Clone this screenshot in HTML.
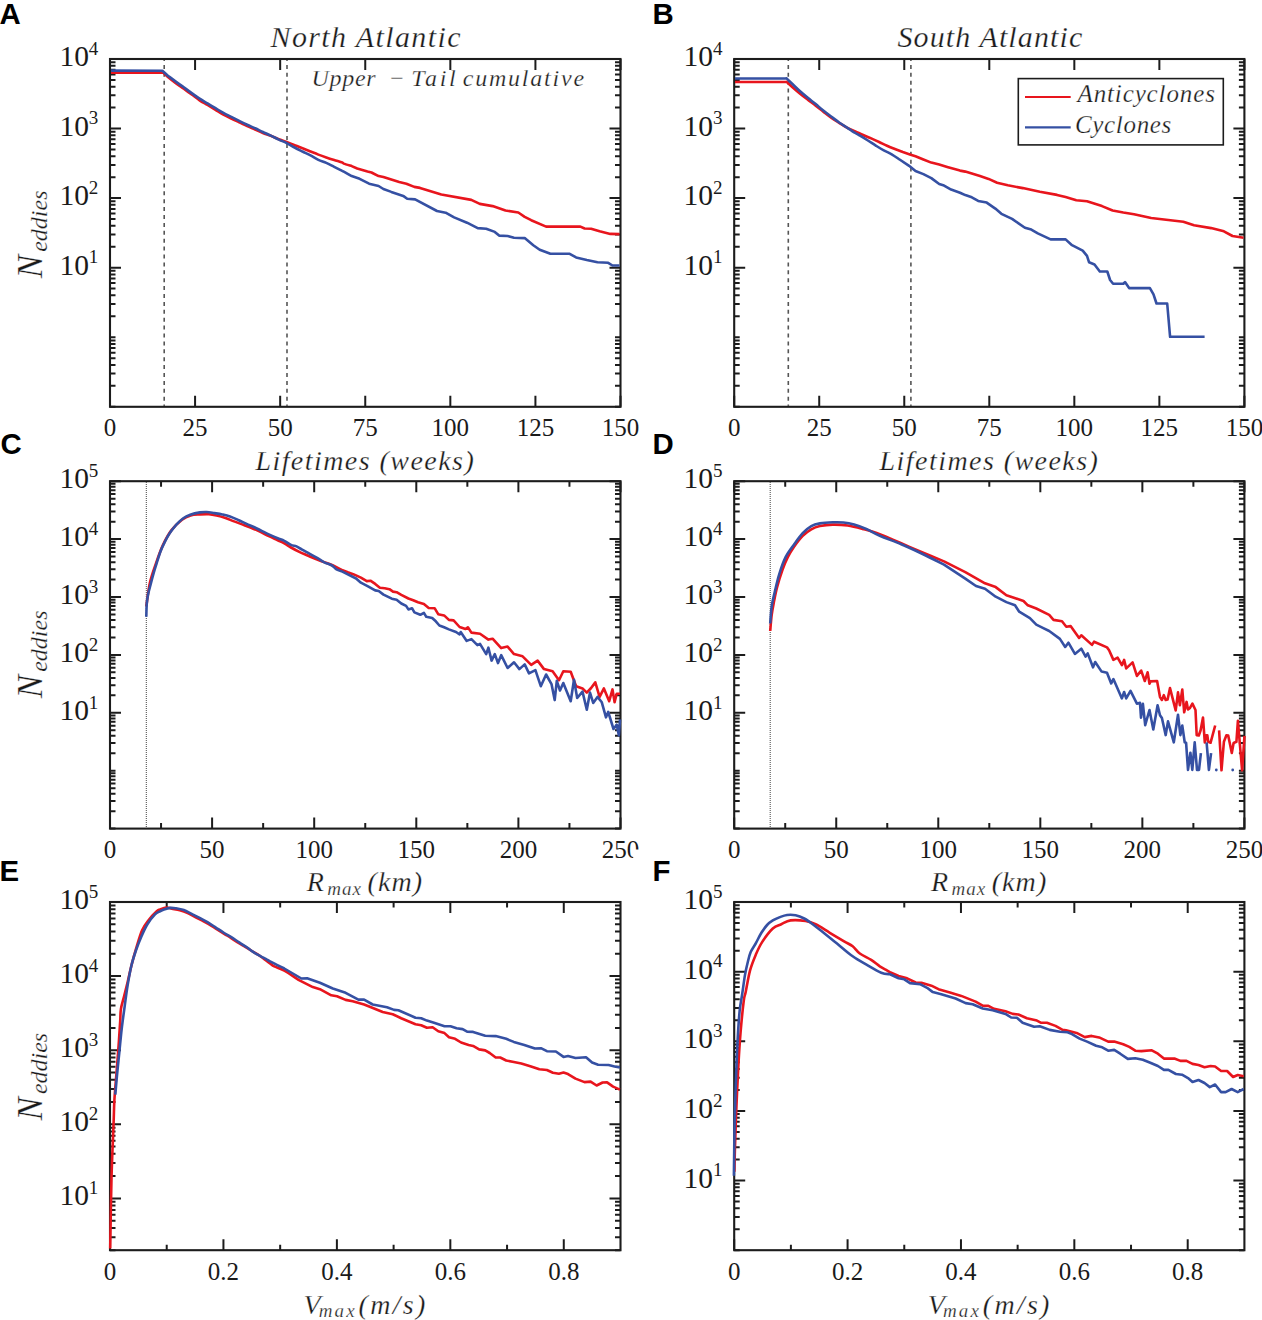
<!DOCTYPE html>
<html><head><meta charset="utf-8"><title>Eddy statistics</title><style>
html,body{margin:0;padding:0;background:#fff;}
svg{display:block;}
text{font-family:"Liberation Serif",serif;fill:#1a1a1a;}
.ti,.ut,.xl,.yl,.lg{stroke:#fff;stroke-width:0.25px;}
.yt{font-size:29.5px;}
.ys{font-size:19px;}
.xt{font-size:25px;}
.ti{font-size:30px;font-style:italic;}
.ut{font-size:24px;font-style:italic;}
.xl{font-size:28px;font-style:italic;}
.sub{font-size:19px;}
.yl{font-size:35px;font-style:italic;}
.ysub{font-size:24px;}
.lg{font-size:25px;font-style:italic;}
.pn{font-family:"Liberation Sans",sans-serif;font-weight:bold;font-size:29.4px;fill:#000;stroke:none;}
</style></head>
<body><svg width="1262" height="1320" viewBox="0 0 1262 1320">
<rect width="1262" height="1320" fill="#fff"/>
<rect x="110.0" y="59.0" width="510.50" height="347.80" fill="none" stroke="#1c1c1c" stroke-width="2.1"/>
<path d="M110.00 406.80h5.5M620.50 406.80h-5.5M110.00 385.86h5.5M620.50 385.86h-5.5M110.00 373.61h5.5M620.50 373.61h-5.5M110.00 364.92h5.5M620.50 364.92h-5.5M110.00 358.18h5.5M620.50 358.18h-5.5M110.00 352.67h5.5M620.50 352.67h-5.5M110.00 348.01h5.5M620.50 348.01h-5.5M110.00 343.98h5.5M620.50 343.98h-5.5M110.00 340.42h5.5M620.50 340.42h-5.5M110.00 337.24h5.5M620.50 337.24h-5.5M110.00 316.30h5.5M620.50 316.30h-5.5M110.00 304.05h5.5M620.50 304.05h-5.5M110.00 295.36h5.5M620.50 295.36h-5.5M110.00 288.62h5.5M620.50 288.62h-5.5M110.00 283.11h5.5M620.50 283.11h-5.5M110.00 278.45h5.5M620.50 278.45h-5.5M110.00 274.42h5.5M620.50 274.42h-5.5M110.00 270.86h5.5M620.50 270.86h-5.5M110.00 267.68h11M620.50 267.68h-11M110.00 246.74h5.5M620.50 246.74h-5.5M110.00 234.49h5.5M620.50 234.49h-5.5M110.00 225.80h5.5M620.50 225.80h-5.5M110.00 219.06h5.5M620.50 219.06h-5.5M110.00 213.55h5.5M620.50 213.55h-5.5M110.00 208.89h5.5M620.50 208.89h-5.5M110.00 204.86h5.5M620.50 204.86h-5.5M110.00 201.30h5.5M620.50 201.30h-5.5M110.00 198.12h11M620.50 198.12h-11M110.00 177.18h5.5M620.50 177.18h-5.5M110.00 164.93h5.5M620.50 164.93h-5.5M110.00 156.24h5.5M620.50 156.24h-5.5M110.00 149.50h5.5M620.50 149.50h-5.5M110.00 143.99h5.5M620.50 143.99h-5.5M110.00 139.33h5.5M620.50 139.33h-5.5M110.00 135.30h5.5M620.50 135.30h-5.5M110.00 131.74h5.5M620.50 131.74h-5.5M110.00 128.56h11M620.50 128.56h-11M110.00 107.62h5.5M620.50 107.62h-5.5M110.00 95.37h5.5M620.50 95.37h-5.5M110.00 86.68h5.5M620.50 86.68h-5.5M110.00 79.94h5.5M620.50 79.94h-5.5M110.00 74.43h5.5M620.50 74.43h-5.5M110.00 69.77h5.5M620.50 69.77h-5.5M110.00 65.74h5.5M620.50 65.74h-5.5M110.00 62.18h5.5M620.50 62.18h-5.5M110.00 59.00h11M620.50 59.00h-11M110.00 406.80v-11M110.00 59.00v11M195.08 406.80v-11M195.08 59.00v11M280.17 406.80v-11M280.17 59.00v11M365.25 406.80v-11M365.25 59.00v11M450.33 406.80v-11M450.33 59.00v11M535.42 406.80v-11M535.42 59.00v11M620.50 406.80v-11M620.50 59.00v11" stroke="#1c1c1c" stroke-width="2" fill="none"/>
<text class="yt" x="59.40" y="274.68">10</text>
<text class="ys" x="88.70" y="263.48">1</text>
<text class="yt" x="59.40" y="205.12">10</text>
<text class="ys" x="88.70" y="193.92">2</text>
<text class="yt" x="59.40" y="135.56">10</text>
<text class="ys" x="88.70" y="124.36">3</text>
<text class="yt" x="59.40" y="66.00">10</text>
<text class="ys" x="88.70" y="54.80">4</text>
<text class="xt" x="110.00" y="436.40" text-anchor="middle">0</text>
<text class="xt" x="195.08" y="436.40" text-anchor="middle">25</text>
<text class="xt" x="280.17" y="436.40" text-anchor="middle">50</text>
<text class="xt" x="365.25" y="436.40" text-anchor="middle">75</text>
<text class="xt" x="450.33" y="436.40" text-anchor="middle">100</text>
<text class="xt" x="535.42" y="436.40" text-anchor="middle">125</text>
<text class="xt" x="620.50" y="436.40" text-anchor="middle">150</text>
<rect x="110.0" y="481.2" width="510.50" height="347.40" fill="none" stroke="#1c1c1c" stroke-width="2.1"/>
<path d="M110.00 828.60h5.5M620.50 828.60h-5.5M110.00 811.17h5.5M620.50 811.17h-5.5M110.00 800.97h5.5M620.50 800.97h-5.5M110.00 793.74h5.5M620.50 793.74h-5.5M110.00 788.13h5.5M620.50 788.13h-5.5M110.00 783.55h5.5M620.50 783.55h-5.5M110.00 779.67h5.5M620.50 779.67h-5.5M110.00 776.31h5.5M620.50 776.31h-5.5M110.00 773.35h5.5M620.50 773.35h-5.5M110.00 770.70h5.5M620.50 770.70h-5.5M110.00 753.27h5.5M620.50 753.27h-5.5M110.00 743.07h5.5M620.50 743.07h-5.5M110.00 735.84h5.5M620.50 735.84h-5.5M110.00 730.23h5.5M620.50 730.23h-5.5M110.00 725.65h5.5M620.50 725.65h-5.5M110.00 721.77h5.5M620.50 721.77h-5.5M110.00 718.41h5.5M620.50 718.41h-5.5M110.00 715.45h5.5M620.50 715.45h-5.5M110.00 712.80h11M620.50 712.80h-11M110.00 695.37h5.5M620.50 695.37h-5.5M110.00 685.17h5.5M620.50 685.17h-5.5M110.00 677.94h5.5M620.50 677.94h-5.5M110.00 672.33h5.5M620.50 672.33h-5.5M110.00 667.75h5.5M620.50 667.75h-5.5M110.00 663.87h5.5M620.50 663.87h-5.5M110.00 660.51h5.5M620.50 660.51h-5.5M110.00 657.55h5.5M620.50 657.55h-5.5M110.00 654.90h11M620.50 654.90h-11M110.00 637.47h5.5M620.50 637.47h-5.5M110.00 627.27h5.5M620.50 627.27h-5.5M110.00 620.04h5.5M620.50 620.04h-5.5M110.00 614.43h5.5M620.50 614.43h-5.5M110.00 609.85h5.5M620.50 609.85h-5.5M110.00 605.97h5.5M620.50 605.97h-5.5M110.00 602.61h5.5M620.50 602.61h-5.5M110.00 599.65h5.5M620.50 599.65h-5.5M110.00 597.00h11M620.50 597.00h-11M110.00 579.57h5.5M620.50 579.57h-5.5M110.00 569.37h5.5M620.50 569.37h-5.5M110.00 562.14h5.5M620.50 562.14h-5.5M110.00 556.53h5.5M620.50 556.53h-5.5M110.00 551.95h5.5M620.50 551.95h-5.5M110.00 548.07h5.5M620.50 548.07h-5.5M110.00 544.71h5.5M620.50 544.71h-5.5M110.00 541.75h5.5M620.50 541.75h-5.5M110.00 539.10h11M620.50 539.10h-11M110.00 521.67h5.5M620.50 521.67h-5.5M110.00 511.47h5.5M620.50 511.47h-5.5M110.00 504.24h5.5M620.50 504.24h-5.5M110.00 498.63h5.5M620.50 498.63h-5.5M110.00 494.05h5.5M620.50 494.05h-5.5M110.00 490.17h5.5M620.50 490.17h-5.5M110.00 486.81h5.5M620.50 486.81h-5.5M110.00 483.85h5.5M620.50 483.85h-5.5M110.00 481.20h11M620.50 481.20h-11M110.00 828.60v-11M110.00 481.20v11M212.10 828.60v-11M212.10 481.20v11M314.20 828.60v-11M314.20 481.20v11M416.30 828.60v-11M416.30 481.20v11M518.40 828.60v-11M518.40 481.20v11M620.50 828.60v-11M620.50 481.20v11M161.05 828.60v-5.5M161.05 481.20v5.5M263.15 828.60v-5.5M263.15 481.20v5.5M365.25 828.60v-5.5M365.25 481.20v5.5M467.35 828.60v-5.5M467.35 481.20v5.5M569.45 828.60v-5.5M569.45 481.20v5.5" stroke="#1c1c1c" stroke-width="2" fill="none"/>
<text class="yt" x="59.40" y="719.80">10</text>
<text class="ys" x="88.70" y="708.60">1</text>
<text class="yt" x="59.40" y="661.90">10</text>
<text class="ys" x="88.70" y="650.70">2</text>
<text class="yt" x="59.40" y="604.00">10</text>
<text class="ys" x="88.70" y="592.80">3</text>
<text class="yt" x="59.40" y="546.10">10</text>
<text class="ys" x="88.70" y="534.90">4</text>
<text class="yt" x="59.40" y="488.20">10</text>
<text class="ys" x="88.70" y="477.00">5</text>
<text class="xt" x="110.00" y="858.20" text-anchor="middle">0</text>
<text class="xt" x="212.10" y="858.20" text-anchor="middle">50</text>
<text class="xt" x="314.20" y="858.20" text-anchor="middle">100</text>
<text class="xt" x="416.30" y="858.20" text-anchor="middle">150</text>
<text class="xt" x="518.40" y="858.20" text-anchor="middle">200</text>
<text class="xt" x="620.50" y="858.20" text-anchor="middle">250</text>
<rect x="110.0" y="902.0" width="510.50" height="348.20" fill="none" stroke="#1c1c1c" stroke-width="2.1"/>
<path d="M110.00 1250.20h5.5M620.50 1250.20h-5.5M110.00 1237.15h5.5M620.50 1237.15h-5.5M110.00 1227.89h5.5M620.50 1227.89h-5.5M110.00 1220.71h5.5M620.50 1220.71h-5.5M110.00 1214.84h5.5M620.50 1214.84h-5.5M110.00 1209.88h5.5M620.50 1209.88h-5.5M110.00 1205.59h5.5M620.50 1205.59h-5.5M110.00 1201.80h5.5M620.50 1201.80h-5.5M110.00 1198.41h11M620.50 1198.41h-11M110.00 1176.10h5.5M620.50 1176.10h-5.5M110.00 1163.05h5.5M620.50 1163.05h-5.5M110.00 1153.79h5.5M620.50 1153.79h-5.5M110.00 1146.61h5.5M620.50 1146.61h-5.5M110.00 1140.74h5.5M620.50 1140.74h-5.5M110.00 1135.78h5.5M620.50 1135.78h-5.5M110.00 1131.49h5.5M620.50 1131.49h-5.5M110.00 1127.69h5.5M620.50 1127.69h-5.5M110.00 1124.30h11M620.50 1124.30h-11M110.00 1102.00h5.5M620.50 1102.00h-5.5M110.00 1088.95h5.5M620.50 1088.95h-5.5M110.00 1079.69h5.5M620.50 1079.69h-5.5M110.00 1072.51h5.5M620.50 1072.51h-5.5M110.00 1066.64h5.5M620.50 1066.64h-5.5M110.00 1061.68h5.5M620.50 1061.68h-5.5M110.00 1057.38h5.5M620.50 1057.38h-5.5M110.00 1053.59h5.5M620.50 1053.59h-5.5M110.00 1050.20h11M620.50 1050.20h-11M110.00 1027.90h5.5M620.50 1027.90h-5.5M110.00 1014.85h5.5M620.50 1014.85h-5.5M110.00 1005.59h5.5M620.50 1005.59h-5.5M110.00 998.41h5.5M620.50 998.41h-5.5M110.00 992.54h5.5M620.50 992.54h-5.5M110.00 987.58h5.5M620.50 987.58h-5.5M110.00 983.28h5.5M620.50 983.28h-5.5M110.00 979.49h5.5M620.50 979.49h-5.5M110.00 976.10h11M620.50 976.10h-11M110.00 953.79h5.5M620.50 953.79h-5.5M110.00 940.75h5.5M620.50 940.75h-5.5M110.00 931.49h5.5M620.50 931.49h-5.5M110.00 924.31h5.5M620.50 924.31h-5.5M110.00 918.44h5.5M620.50 918.44h-5.5M110.00 913.48h5.5M620.50 913.48h-5.5M110.00 909.18h5.5M620.50 909.18h-5.5M110.00 905.39h5.5M620.50 905.39h-5.5M110.00 902.00h11M620.50 902.00h-11M110.00 1250.20v-11M110.00 902.00v11M223.44 1250.20v-11M223.44 902.00v11M336.89 1250.20v-11M336.89 902.00v11M450.33 1250.20v-11M450.33 902.00v11M563.78 1250.20v-11M563.78 902.00v11M166.72 1250.20v-5.5M166.72 902.00v5.5M280.17 1250.20v-5.5M280.17 902.00v5.5M393.61 1250.20v-5.5M393.61 902.00v5.5M507.06 1250.20v-5.5M507.06 902.00v5.5" stroke="#1c1c1c" stroke-width="2" fill="none"/>
<text class="yt" x="59.40" y="1205.41">10</text>
<text class="ys" x="88.70" y="1194.21">1</text>
<text class="yt" x="59.40" y="1131.30">10</text>
<text class="ys" x="88.70" y="1120.10">2</text>
<text class="yt" x="59.40" y="1057.20">10</text>
<text class="ys" x="88.70" y="1046.00">3</text>
<text class="yt" x="59.40" y="983.10">10</text>
<text class="ys" x="88.70" y="971.90">4</text>
<text class="yt" x="59.40" y="909.00">10</text>
<text class="ys" x="88.70" y="897.80">5</text>
<text class="xt" x="110.00" y="1279.80" text-anchor="middle">0</text>
<text class="xt" x="223.44" y="1279.80" text-anchor="middle">0.2</text>
<text class="xt" x="336.89" y="1279.80" text-anchor="middle">0.4</text>
<text class="xt" x="450.33" y="1279.80" text-anchor="middle">0.6</text>
<text class="xt" x="563.78" y="1279.80" text-anchor="middle">0.8</text>
<rect x="734.2" y="59.0" width="510.20" height="347.80" fill="none" stroke="#1c1c1c" stroke-width="2.1"/>
<path d="M734.20 406.80h5.5M1244.40 406.80h-5.5M734.20 385.86h5.5M1244.40 385.86h-5.5M734.20 373.61h5.5M1244.40 373.61h-5.5M734.20 364.92h5.5M1244.40 364.92h-5.5M734.20 358.18h5.5M1244.40 358.18h-5.5M734.20 352.67h5.5M1244.40 352.67h-5.5M734.20 348.01h5.5M1244.40 348.01h-5.5M734.20 343.98h5.5M1244.40 343.98h-5.5M734.20 340.42h5.5M1244.40 340.42h-5.5M734.20 337.24h5.5M1244.40 337.24h-5.5M734.20 316.30h5.5M1244.40 316.30h-5.5M734.20 304.05h5.5M1244.40 304.05h-5.5M734.20 295.36h5.5M1244.40 295.36h-5.5M734.20 288.62h5.5M1244.40 288.62h-5.5M734.20 283.11h5.5M1244.40 283.11h-5.5M734.20 278.45h5.5M1244.40 278.45h-5.5M734.20 274.42h5.5M1244.40 274.42h-5.5M734.20 270.86h5.5M1244.40 270.86h-5.5M734.20 267.68h11M1244.40 267.68h-11M734.20 246.74h5.5M1244.40 246.74h-5.5M734.20 234.49h5.5M1244.40 234.49h-5.5M734.20 225.80h5.5M1244.40 225.80h-5.5M734.20 219.06h5.5M1244.40 219.06h-5.5M734.20 213.55h5.5M1244.40 213.55h-5.5M734.20 208.89h5.5M1244.40 208.89h-5.5M734.20 204.86h5.5M1244.40 204.86h-5.5M734.20 201.30h5.5M1244.40 201.30h-5.5M734.20 198.12h11M1244.40 198.12h-11M734.20 177.18h5.5M1244.40 177.18h-5.5M734.20 164.93h5.5M1244.40 164.93h-5.5M734.20 156.24h5.5M1244.40 156.24h-5.5M734.20 149.50h5.5M1244.40 149.50h-5.5M734.20 143.99h5.5M1244.40 143.99h-5.5M734.20 139.33h5.5M1244.40 139.33h-5.5M734.20 135.30h5.5M1244.40 135.30h-5.5M734.20 131.74h5.5M1244.40 131.74h-5.5M734.20 128.56h11M1244.40 128.56h-11M734.20 107.62h5.5M1244.40 107.62h-5.5M734.20 95.37h5.5M1244.40 95.37h-5.5M734.20 86.68h5.5M1244.40 86.68h-5.5M734.20 79.94h5.5M1244.40 79.94h-5.5M734.20 74.43h5.5M1244.40 74.43h-5.5M734.20 69.77h5.5M1244.40 69.77h-5.5M734.20 65.74h5.5M1244.40 65.74h-5.5M734.20 62.18h5.5M1244.40 62.18h-5.5M734.20 59.00h11M1244.40 59.00h-11M734.20 406.80v-11M734.20 59.00v11M819.23 406.80v-11M819.23 59.00v11M904.27 406.80v-11M904.27 59.00v11M989.30 406.80v-11M989.30 59.00v11M1074.33 406.80v-11M1074.33 59.00v11M1159.37 406.80v-11M1159.37 59.00v11M1244.40 406.80v-11M1244.40 59.00v11" stroke="#1c1c1c" stroke-width="2" fill="none"/>
<text class="yt" x="683.60" y="274.68">10</text>
<text class="ys" x="712.90" y="263.48">1</text>
<text class="yt" x="683.60" y="205.12">10</text>
<text class="ys" x="712.90" y="193.92">2</text>
<text class="yt" x="683.60" y="135.56">10</text>
<text class="ys" x="712.90" y="124.36">3</text>
<text class="yt" x="683.60" y="66.00">10</text>
<text class="ys" x="712.90" y="54.80">4</text>
<text class="xt" x="734.20" y="436.40" text-anchor="middle">0</text>
<text class="xt" x="819.23" y="436.40" text-anchor="middle">25</text>
<text class="xt" x="904.27" y="436.40" text-anchor="middle">50</text>
<text class="xt" x="989.30" y="436.40" text-anchor="middle">75</text>
<text class="xt" x="1074.33" y="436.40" text-anchor="middle">100</text>
<text class="xt" x="1159.37" y="436.40" text-anchor="middle">125</text>
<text class="xt" x="1244.40" y="436.40" text-anchor="middle">150</text>
<rect x="734.2" y="481.2" width="510.20" height="347.40" fill="none" stroke="#1c1c1c" stroke-width="2.1"/>
<path d="M734.20 828.60h5.5M1244.40 828.60h-5.5M734.20 811.17h5.5M1244.40 811.17h-5.5M734.20 800.97h5.5M1244.40 800.97h-5.5M734.20 793.74h5.5M1244.40 793.74h-5.5M734.20 788.13h5.5M1244.40 788.13h-5.5M734.20 783.55h5.5M1244.40 783.55h-5.5M734.20 779.67h5.5M1244.40 779.67h-5.5M734.20 776.31h5.5M1244.40 776.31h-5.5M734.20 773.35h5.5M1244.40 773.35h-5.5M734.20 770.70h5.5M1244.40 770.70h-5.5M734.20 753.27h5.5M1244.40 753.27h-5.5M734.20 743.07h5.5M1244.40 743.07h-5.5M734.20 735.84h5.5M1244.40 735.84h-5.5M734.20 730.23h5.5M1244.40 730.23h-5.5M734.20 725.65h5.5M1244.40 725.65h-5.5M734.20 721.77h5.5M1244.40 721.77h-5.5M734.20 718.41h5.5M1244.40 718.41h-5.5M734.20 715.45h5.5M1244.40 715.45h-5.5M734.20 712.80h11M1244.40 712.80h-11M734.20 695.37h5.5M1244.40 695.37h-5.5M734.20 685.17h5.5M1244.40 685.17h-5.5M734.20 677.94h5.5M1244.40 677.94h-5.5M734.20 672.33h5.5M1244.40 672.33h-5.5M734.20 667.75h5.5M1244.40 667.75h-5.5M734.20 663.87h5.5M1244.40 663.87h-5.5M734.20 660.51h5.5M1244.40 660.51h-5.5M734.20 657.55h5.5M1244.40 657.55h-5.5M734.20 654.90h11M1244.40 654.90h-11M734.20 637.47h5.5M1244.40 637.47h-5.5M734.20 627.27h5.5M1244.40 627.27h-5.5M734.20 620.04h5.5M1244.40 620.04h-5.5M734.20 614.43h5.5M1244.40 614.43h-5.5M734.20 609.85h5.5M1244.40 609.85h-5.5M734.20 605.97h5.5M1244.40 605.97h-5.5M734.20 602.61h5.5M1244.40 602.61h-5.5M734.20 599.65h5.5M1244.40 599.65h-5.5M734.20 597.00h11M1244.40 597.00h-11M734.20 579.57h5.5M1244.40 579.57h-5.5M734.20 569.37h5.5M1244.40 569.37h-5.5M734.20 562.14h5.5M1244.40 562.14h-5.5M734.20 556.53h5.5M1244.40 556.53h-5.5M734.20 551.95h5.5M1244.40 551.95h-5.5M734.20 548.07h5.5M1244.40 548.07h-5.5M734.20 544.71h5.5M1244.40 544.71h-5.5M734.20 541.75h5.5M1244.40 541.75h-5.5M734.20 539.10h11M1244.40 539.10h-11M734.20 521.67h5.5M1244.40 521.67h-5.5M734.20 511.47h5.5M1244.40 511.47h-5.5M734.20 504.24h5.5M1244.40 504.24h-5.5M734.20 498.63h5.5M1244.40 498.63h-5.5M734.20 494.05h5.5M1244.40 494.05h-5.5M734.20 490.17h5.5M1244.40 490.17h-5.5M734.20 486.81h5.5M1244.40 486.81h-5.5M734.20 483.85h5.5M1244.40 483.85h-5.5M734.20 481.20h11M1244.40 481.20h-11M734.20 828.60v-11M734.20 481.20v11M836.24 828.60v-11M836.24 481.20v11M938.28 828.60v-11M938.28 481.20v11M1040.32 828.60v-11M1040.32 481.20v11M1142.36 828.60v-11M1142.36 481.20v11M1244.40 828.60v-11M1244.40 481.20v11M785.22 828.60v-5.5M785.22 481.20v5.5M887.26 828.60v-5.5M887.26 481.20v5.5M989.30 828.60v-5.5M989.30 481.20v5.5M1091.34 828.60v-5.5M1091.34 481.20v5.5M1193.38 828.60v-5.5M1193.38 481.20v5.5" stroke="#1c1c1c" stroke-width="2" fill="none"/>
<text class="yt" x="683.60" y="719.80">10</text>
<text class="ys" x="712.90" y="708.60">1</text>
<text class="yt" x="683.60" y="661.90">10</text>
<text class="ys" x="712.90" y="650.70">2</text>
<text class="yt" x="683.60" y="604.00">10</text>
<text class="ys" x="712.90" y="592.80">3</text>
<text class="yt" x="683.60" y="546.10">10</text>
<text class="ys" x="712.90" y="534.90">4</text>
<text class="yt" x="683.60" y="488.20">10</text>
<text class="ys" x="712.90" y="477.00">5</text>
<text class="xt" x="734.20" y="858.20" text-anchor="middle">0</text>
<text class="xt" x="836.24" y="858.20" text-anchor="middle">50</text>
<text class="xt" x="938.28" y="858.20" text-anchor="middle">100</text>
<text class="xt" x="1040.32" y="858.20" text-anchor="middle">150</text>
<text class="xt" x="1142.36" y="858.20" text-anchor="middle">200</text>
<text class="xt" x="1244.40" y="858.20" text-anchor="middle">250</text>
<rect x="734.2" y="902.0" width="510.20" height="348.20" fill="none" stroke="#1c1c1c" stroke-width="2.1"/>
<path d="M734.20 1250.20h5.5M1244.40 1250.20h-5.5M734.20 1229.24h5.5M1244.40 1229.24h-5.5M734.20 1216.97h5.5M1244.40 1216.97h-5.5M734.20 1208.27h5.5M1244.40 1208.27h-5.5M734.20 1201.52h5.5M1244.40 1201.52h-5.5M734.20 1196.01h5.5M1244.40 1196.01h-5.5M734.20 1191.35h5.5M1244.40 1191.35h-5.5M734.20 1187.31h5.5M1244.40 1187.31h-5.5M734.20 1183.75h5.5M1244.40 1183.75h-5.5M734.20 1180.56h11M1244.40 1180.56h-11M734.20 1159.60h5.5M1244.40 1159.60h-5.5M734.20 1147.33h5.5M1244.40 1147.33h-5.5M734.20 1138.63h5.5M1244.40 1138.63h-5.5M734.20 1131.88h5.5M1244.40 1131.88h-5.5M734.20 1126.37h5.5M1244.40 1126.37h-5.5M734.20 1121.71h5.5M1244.40 1121.71h-5.5M734.20 1117.67h5.5M1244.40 1117.67h-5.5M734.20 1114.11h5.5M1244.40 1114.11h-5.5M734.20 1110.92h11M1244.40 1110.92h-11M734.20 1089.96h5.5M1244.40 1089.96h-5.5M734.20 1077.69h5.5M1244.40 1077.69h-5.5M734.20 1068.99h5.5M1244.40 1068.99h-5.5M734.20 1062.24h5.5M1244.40 1062.24h-5.5M734.20 1056.73h5.5M1244.40 1056.73h-5.5M734.20 1052.07h5.5M1244.40 1052.07h-5.5M734.20 1048.03h5.5M1244.40 1048.03h-5.5M734.20 1044.47h5.5M1244.40 1044.47h-5.5M734.20 1041.28h11M1244.40 1041.28h-11M734.20 1020.32h5.5M1244.40 1020.32h-5.5M734.20 1008.05h5.5M1244.40 1008.05h-5.5M734.20 999.35h5.5M1244.40 999.35h-5.5M734.20 992.60h5.5M1244.40 992.60h-5.5M734.20 987.09h5.5M1244.40 987.09h-5.5M734.20 982.43h5.5M1244.40 982.43h-5.5M734.20 978.39h5.5M1244.40 978.39h-5.5M734.20 974.83h5.5M1244.40 974.83h-5.5M734.20 971.64h11M1244.40 971.64h-11M734.20 950.68h5.5M1244.40 950.68h-5.5M734.20 938.41h5.5M1244.40 938.41h-5.5M734.20 929.71h5.5M1244.40 929.71h-5.5M734.20 922.96h5.5M1244.40 922.96h-5.5M734.20 917.45h5.5M1244.40 917.45h-5.5M734.20 912.79h5.5M1244.40 912.79h-5.5M734.20 908.75h5.5M1244.40 908.75h-5.5M734.20 905.19h5.5M1244.40 905.19h-5.5M734.20 902.00h11M1244.40 902.00h-11M734.20 1250.20v-11M734.20 902.00v11M847.58 1250.20v-11M847.58 902.00v11M960.96 1250.20v-11M960.96 902.00v11M1074.33 1250.20v-11M1074.33 902.00v11M1187.71 1250.20v-11M1187.71 902.00v11M790.89 1250.20v-5.5M790.89 902.00v5.5M904.27 1250.20v-5.5M904.27 902.00v5.5M1017.64 1250.20v-5.5M1017.64 902.00v5.5M1131.02 1250.20v-5.5M1131.02 902.00v5.5" stroke="#1c1c1c" stroke-width="2" fill="none"/>
<text class="yt" x="683.60" y="1187.56">10</text>
<text class="ys" x="712.90" y="1176.36">1</text>
<text class="yt" x="683.60" y="1117.92">10</text>
<text class="ys" x="712.90" y="1106.72">2</text>
<text class="yt" x="683.60" y="1048.28">10</text>
<text class="ys" x="712.90" y="1037.08">3</text>
<text class="yt" x="683.60" y="978.64">10</text>
<text class="ys" x="712.90" y="967.44">4</text>
<text class="yt" x="683.60" y="909.00">10</text>
<text class="ys" x="712.90" y="897.80">5</text>
<text class="xt" x="734.20" y="1279.80" text-anchor="middle">0</text>
<text class="xt" x="847.58" y="1279.80" text-anchor="middle">0.2</text>
<text class="xt" x="960.96" y="1279.80" text-anchor="middle">0.4</text>
<text class="xt" x="1074.33" y="1279.80" text-anchor="middle">0.6</text>
<text class="xt" x="1187.71" y="1279.80" text-anchor="middle">0.8</text>
<rect x="633.2" y="849.5" width="8" height="12" fill="#fff"/>
<line x1="164.2" y1="60" x2="164.2" y2="406" stroke="#555" stroke-width="1.6" stroke-dasharray="4 3.9" stroke-dashoffset="3.0"/>
<line x1="287.0" y1="60" x2="287.0" y2="406" stroke="#555" stroke-width="1.6" stroke-dasharray="4 3.9" stroke-dashoffset="3.0"/>
<line x1="788.3" y1="60" x2="788.3" y2="406" stroke="#555" stroke-width="1.6" stroke-dasharray="4 3.9" stroke-dashoffset="3.0"/>
<line x1="910.9" y1="60" x2="910.9" y2="406" stroke="#555" stroke-width="1.6" stroke-dasharray="4 3.9" stroke-dashoffset="3.0"/>
<line x1="146.3" y1="482" x2="146.3" y2="828" stroke="#444" stroke-width="1" stroke-dasharray="1 1"/>
<line x1="770.2" y1="482" x2="770.2" y2="828" stroke="#444" stroke-width="1" stroke-dasharray="1 1"/>
<path d="M111.00 72.60 L162.80 72.60 C162.87 72.63 162.35 72.08 163.20 72.80 C164.05 73.52 165.80 75.18 167.90 76.90 C170.00 78.62 173.15 81.12 175.80 83.10 C178.45 85.08 181.15 86.90 183.80 88.80 C186.45 90.70 189.07 92.58 191.70 94.50 C194.33 96.42 196.97 98.55 199.60 100.30 C202.23 102.05 204.85 103.42 207.50 105.00 C210.15 106.58 212.85 108.22 215.50 109.80 C218.15 111.38 220.77 113.05 223.40 114.50 C226.03 115.95 228.67 117.22 231.30 118.50 C233.93 119.78 236.55 120.95 239.20 122.20 C241.85 123.45 244.55 124.78 247.20 126.00 C249.85 127.22 252.48 128.32 255.10 129.50 C257.72 130.68 260.28 132.05 262.90 133.10 C265.52 134.15 268.15 134.78 270.80 135.80 C273.45 136.82 276.15 138.18 278.80 139.20 C281.45 140.22 284.07 140.92 286.70 141.90 C289.33 142.88 291.97 144.03 294.60 145.10 C297.23 146.17 299.85 147.23 302.50 148.30 C305.15 149.37 307.85 150.45 310.50 151.50 C313.15 152.55 315.77 153.62 318.40 154.60 C321.03 155.58 323.67 156.50 326.30 157.40 C328.93 158.30 331.55 159.15 334.20 160.00 C336.85 160.85 340.60 161.90 342.20 162.50 C343.80 163.10 342.22 163.00 343.80 163.60 C345.38 164.20 350.38 165.68 351.70 166.10 L357.20 168.50 L367.50 171.50 L371.50 172.50 L378.60 176.10 L383.40 177.10 L391.30 179.60 L399.20 182.00 L406.40 183.70 L414.30 186.90 L420.00 187.90 L441.30 194.50 L471.30 199.90 L479.80 203.90 L492.60 206.10 L505.50 210.50 L518.30 212.50 L524.70 216.80 L531.20 220.20 L546.10 226.60 L580.40 226.60 L584.60 228.50 L591.10 228.70 L599.60 231.30 L610.30 233.90 L619.50 234.10" stroke="#e8151d" stroke-width="2.6" fill="none" stroke-linejoin="round" stroke-linecap="butt" />
<path d="M111.00 70.60 L162.40 70.70 L167.90 75.70 C169.22 76.68 173.15 79.67 175.80 81.60 C178.45 83.53 181.15 85.38 183.80 87.30 C186.45 89.22 189.07 91.20 191.70 93.10 C194.33 95.00 196.97 96.98 199.60 98.70 C202.23 100.42 204.85 101.82 207.50 103.40 C210.15 104.98 212.85 106.62 215.50 108.20 C218.15 109.78 220.77 111.45 223.40 112.90 C226.03 114.35 228.67 115.57 231.30 116.90 C233.93 118.23 236.55 119.58 239.20 120.90 C241.85 122.22 244.55 123.57 247.20 124.80 C249.85 126.03 252.48 127.10 255.10 128.30 C257.72 129.50 260.28 130.78 262.90 132.00 C265.52 133.22 268.15 134.33 270.80 135.60 C273.45 136.87 276.15 138.35 278.80 139.60 C281.45 140.85 284.07 141.78 286.70 143.10 C289.33 144.42 291.97 146.10 294.60 147.50 C297.23 148.90 299.85 150.18 302.50 151.50 C305.15 152.82 307.85 154.02 310.50 155.40 C313.15 156.78 315.77 158.55 318.40 159.80 C321.03 161.05 323.67 161.72 326.30 162.90 C328.93 164.08 331.55 165.57 334.20 166.90 C336.85 168.23 340.60 170.10 342.20 170.90 C343.80 171.70 342.22 170.83 343.80 171.70 C345.38 172.57 350.38 175.37 351.70 176.10 L359.60 178.80 L369.10 183.70 L378.60 186.00 L383.40 189.00 L391.30 191.90 L403.20 195.90 L407.20 198.80 L415.10 199.40 L437.00 211.00 L445.60 212.70 L454.10 217.40 L467.00 222.70 L477.70 228.10 L486.20 228.70 L494.80 231.90 L499.10 235.60 L507.60 236.00 L514.00 237.70 L524.70 238.10 L533.30 245.20 L539.70 249.70 L550.40 253.80 L569.70 253.80 L576.10 257.40 L586.80 260.00 L597.50 262.30 L608.20 262.80 L612.50 265.50 L619.50 265.50" stroke="#3550a3" stroke-width="2.6" fill="none" stroke-linejoin="round" stroke-linecap="butt" />
<path d="M735.00 82.00 L786.70 82.00 C786.72 82.02 785.93 81.32 786.80 82.10 C787.67 82.88 789.73 84.82 791.90 86.70 C794.07 88.58 797.15 91.23 799.80 93.40 C802.45 95.57 805.15 97.65 807.80 99.70 C810.45 101.75 813.07 103.65 815.70 105.70 C818.33 107.75 820.97 109.95 823.60 112.00 C826.23 114.05 828.85 116.15 831.50 118.00 C834.15 119.85 836.85 121.45 839.50 123.10 C842.15 124.75 844.77 126.52 847.40 127.90 C850.03 129.28 852.67 130.22 855.30 131.40 C857.93 132.58 860.55 133.83 863.20 135.00 C865.85 136.17 868.55 137.23 871.20 138.40 C873.85 139.57 876.47 140.77 879.10 142.00 C881.73 143.23 884.37 144.63 887.00 145.80 C889.63 146.97 892.27 147.97 894.90 149.00 C897.53 150.03 901.48 151.50 902.80 152.00 L909.90 154.40 L915.50 156.30 L923.40 159.50 L931.30 162.60 L939.20 164.60 L947.20 167.00 L960.00 170.60 L965.30 171.60 L980.00 176.10 L988.60 178.90 L997.10 182.70 L1007.80 185.30 L1022.80 188.10 L1039.90 191.70 L1057.00 194.90 L1065.60 197.10 L1076.30 200.30 L1087.00 201.30 L1102.00 206.10 L1112.60 210.50 L1123.30 212.50 L1134.00 214.20 L1151.20 218.00 L1164.00 219.50 L1183.30 221.70 L1194.00 225.30 L1211.10 228.10 L1223.90 231.30 L1232.50 236.00 L1243.50 237.70" stroke="#e8151d" stroke-width="2.6" fill="none" stroke-linejoin="round" stroke-linecap="butt" />
<path d="M735.00 78.50 L786.70 78.50 C786.72 78.52 785.93 77.77 786.80 78.60 C787.67 79.43 789.73 81.43 791.90 83.50 C794.07 85.57 797.15 88.62 799.80 91.00 C802.45 93.38 805.15 95.62 807.80 97.80 C810.45 99.98 813.07 101.93 815.70 104.10 C818.33 106.27 820.97 108.68 823.60 110.80 C826.23 112.92 828.85 114.82 831.50 116.80 C834.15 118.78 836.85 120.85 839.50 122.70 C842.15 124.55 844.77 126.18 847.40 127.90 C850.03 129.62 853.20 131.70 855.30 133.00 C857.40 134.30 857.90 134.45 860.00 135.70 C862.10 136.95 865.27 138.85 867.90 140.50 C870.53 142.15 873.15 143.95 875.80 145.60 C878.45 147.25 881.15 148.95 883.80 150.40 C886.45 151.85 889.07 152.78 891.70 154.30 C894.33 155.82 898.28 158.63 899.60 159.50 L909.10 165.80 L915.50 171.00 L923.40 174.10 L931.30 178.10 L939.20 184.00 L943.20 185.20 L951.10 189.60 L960.00 192.70 L965.30 195.10 L971.80 197.30 L978.20 200.90 L986.70 202.60 L995.30 208.60 L1001.40 213.80 L1012.10 218.90 L1024.90 227.70 L1031.30 229.60 L1037.80 233.40 L1050.60 239.40 L1065.60 239.40 L1072.00 245.20 L1082.70 250.60 L1087.00 255.90 L1089.10 262.30 L1094.50 264.50 L1099.80 271.50 L1107.30 271.50 L1110.10 280.00 L1113.10 283.80 L1123.20 283.80 L1125.00 282.10 L1129.10 288.10 L1149.90 288.10 L1153.50 294.30 L1156.50 303.50 L1167.20 303.50 L1170.10 336.80 L1204.60 336.80" stroke="#3550a3" stroke-width="2.6" fill="none" stroke-linejoin="round" stroke-linecap="butt" />
<path d="M146.30 606.40 C146.90 602.47 148.23 590.12 149.90 582.80 C151.57 575.48 154.15 568.73 156.30 562.50 C158.45 556.27 160.30 550.75 162.80 545.40 C165.30 540.05 168.10 534.68 171.30 530.40 C174.50 526.12 178.78 522.20 182.00 519.70 C185.22 517.20 187.60 516.28 190.60 515.40 C193.60 514.52 196.95 514.60 200.00 514.40 C203.05 514.20 206.13 514.02 208.90 514.20 C211.67 514.38 213.83 514.87 216.60 515.50 C219.37 516.13 222.72 517.07 225.50 518.00 C228.28 518.93 230.52 520.03 233.30 521.10 C236.08 522.17 239.25 523.30 242.20 524.40 C245.15 525.50 248.05 526.50 251.00 527.70 C253.95 528.90 256.93 530.20 259.90 531.60 C262.87 533.00 265.83 534.67 268.80 536.10 C271.77 537.53 275.12 539.00 277.70 540.20 C280.28 541.40 282.08 542.08 284.30 543.30 C286.52 544.52 288.42 546.03 291.00 547.50 C293.58 548.97 297.03 550.77 299.80 552.10 C302.57 553.43 304.82 554.28 307.60 555.50 C310.38 556.72 313.72 558.30 316.50 559.40 C319.28 560.50 321.53 561.08 324.30 562.10 C327.07 563.12 330.17 564.18 333.10 565.50 C336.03 566.82 340.43 569.25 341.90 570.00 L347.80 572.30 L353.80 574.40 L360.90 577.60 L366.80 581.10 L370.40 580.70 L375.20 583.90 L379.90 587.80 L384.70 588.30 L389.40 589.20 L393.00 591.60 L396.60 592.20 L401.30 594.90 L408.40 598.50 L413.20 600.20 L418.00 602.30 L423.90 604.10 L428.70 608.00 L434.60 608.20 L438.20 614.20 L444.10 615.40 L448.90 619.90 L453.60 620.40 L459.60 627.00 L465.50 629.00 L467.90 627.30 L471.40 632.60 L480.00 633.80 L488.40 639.60 L492.60 638.70 L501.20 648.10 L507.60 646.60 L514.00 654.10 L522.60 656.30 L531.20 664.80 L537.60 660.60 L544.00 669.10 L552.60 671.30 L559.00 680.20 L563.30 671.30 L570.70 671.70 L576.10 686.20 L582.50 688.40 L586.80 692.60 L591.10 688.00 L595.30 682.40 L599.60 696.90 L603.90 688.40 L609.20 701.20 L612.50 689.40 L614.60 702.30 L616.70 693.70 L620.00 693.70" stroke="#e8151d" stroke-width="2.6" fill="none" stroke-linejoin="round" stroke-linecap="butt" />
<path d="M146.30 616.70 C146.38 614.48 146.47 607.25 146.80 603.40 C147.13 599.55 147.63 596.88 148.30 593.60 C148.97 590.32 149.90 587.15 150.80 583.70 C151.70 580.25 152.72 576.33 153.70 572.90 C154.68 569.47 155.55 566.72 156.70 563.10 C157.85 559.48 159.28 554.65 160.60 551.20 C161.92 547.75 163.12 545.35 164.60 542.40 C166.08 539.45 167.53 536.47 169.50 533.50 C171.47 530.53 174.10 527.15 176.40 524.60 C178.70 522.05 181.00 519.83 183.30 518.20 C185.60 516.57 187.42 515.77 190.20 514.80 C192.98 513.83 197.25 512.87 200.00 512.40 C202.75 511.93 204.30 511.88 206.70 512.00 C209.10 512.12 211.82 512.70 214.40 513.10 C216.98 513.50 219.60 513.85 222.20 514.40 C224.80 514.95 227.23 515.43 230.00 516.40 C232.77 517.37 236.03 518.95 238.80 520.20 C241.57 521.45 244.00 522.73 246.60 523.90 C249.20 525.07 251.82 526.00 254.40 527.20 C256.98 528.40 259.52 529.82 262.10 531.10 C264.68 532.38 267.30 533.70 269.90 534.90 C272.50 536.10 275.30 537.32 277.70 538.30 C280.10 539.28 282.08 539.70 284.30 540.80 C286.52 541.90 288.97 543.97 291.00 544.90 C293.03 545.83 294.65 545.60 296.50 546.40 C298.35 547.20 299.88 548.47 302.10 549.70 C304.32 550.93 307.22 552.38 309.80 553.80 C312.38 555.22 315.18 556.78 317.60 558.20 C320.02 559.62 321.90 561.08 324.30 562.30 C326.70 563.52 329.97 564.33 332.00 565.50 C334.03 566.67 334.85 568.32 336.50 569.30 C338.15 570.28 341.00 571.05 341.90 571.40 L347.80 574.40 L356.10 578.50 L360.90 582.70 L368.00 586.30 L375.20 590.40 L378.70 591.00 L383.50 594.60 L391.80 598.70 L396.60 599.70 L401.30 603.50 L406.10 605.90 L408.40 609.40 L412.00 608.20 L414.40 612.40 L420.30 614.80 L423.90 612.80 L426.30 616.80 L432.20 618.00 L435.80 621.30 L439.40 625.50 L444.10 627.30 L448.90 629.40 L456.00 632.00 L459.60 634.40 L460.70 632.00 L466.70 640.90 L471.40 639.10 L477.40 645.10 L480.00 643.90 L486.20 654.10 L488.40 647.70 L491.60 660.60 L494.80 654.10 L498.00 663.10 L501.20 655.20 L507.60 668.00 L514.00 662.30 L519.40 669.10 L524.70 664.40 L529.00 673.40 L535.40 670.20 L540.80 686.20 L546.10 674.50 L551.50 684.10 L554.70 700.10 L556.80 680.90 L560.00 690.50 L563.30 683.00 L570.70 701.20 L574.00 679.80 L577.20 698.00 L582.50 691.60 L586.80 709.80 L590.00 692.60 L593.20 702.90 L597.50 696.90 L601.80 702.30 L606.00 717.30 L608.20 711.90 L613.50 729.00 L616.70 724.70 L618.90 735.40 L620.00 719.40" stroke="#3550a3" stroke-width="2.6" fill="none" stroke-linejoin="round" stroke-linecap="butt" />
<path d="M110.20 1248.50 C110.42 1236.73 110.95 1198.35 111.50 1177.90 C112.05 1157.45 113.02 1138.78 113.50 1125.80 C113.98 1112.82 113.92 1108.60 114.40 1100.00 C114.88 1091.40 115.70 1083.28 116.40 1074.20 C117.10 1065.12 117.97 1054.33 118.60 1045.50 C119.23 1036.67 119.82 1027.27 120.20 1021.20 C120.58 1015.13 120.28 1013.13 120.90 1009.10 C121.52 1005.07 122.77 1001.55 123.90 997.00 C125.03 992.45 126.43 987.10 127.70 981.80 C128.97 976.50 130.07 970.83 131.50 965.20 C132.93 959.57 134.53 953.82 136.30 948.00 C138.07 942.18 140.00 935.02 142.10 930.30 C144.20 925.58 146.50 922.85 148.90 919.70 C151.30 916.55 154.65 913.10 156.50 911.40 C158.35 909.70 158.37 910.15 160.00 909.50 C161.63 908.85 164.32 907.63 166.30 907.50 C168.28 907.37 169.65 908.23 171.90 908.70 C174.15 909.17 177.17 909.57 179.80 910.30 C182.43 911.03 185.05 911.92 187.70 913.10 C190.35 914.28 193.05 916.02 195.70 917.40 C198.35 918.78 200.97 920.00 203.60 921.40 C206.23 922.80 208.87 924.22 211.50 925.80 C214.13 927.38 216.75 929.25 219.40 930.90 C222.05 932.55 224.75 934.05 227.40 935.70 C230.05 937.35 232.67 939.15 235.30 940.80 C237.93 942.45 240.43 943.90 243.20 945.60 C245.97 947.30 249.10 949.27 251.90 951.00 C254.70 952.73 256.98 953.92 260.00 956.00 C263.02 958.08 267.62 961.77 270.00 963.50 C272.38 965.23 271.92 965.20 274.30 966.40 C276.68 967.60 280.27 968.45 284.30 970.70 C288.33 972.95 296.13 978.37 298.50 979.90 L312.80 987.10 L319.90 989.20 L331.30 995.30 L337.00 996.30 L345.60 999.90 L352.70 1001.30 L364.10 1004.50 L369.80 1006.80 L382.70 1012.00 L392.70 1014.20 L401.20 1018.20 L415.50 1024.20 L421.20 1025.20 L426.90 1027.70 L432.60 1027.30 L438.30 1031.30 L444.50 1033.10 L449.00 1037.30 L455.10 1038.80 L461.10 1042.50 L468.60 1044.90 L473.10 1045.90 L479.10 1049.40 L485.20 1050.40 L489.70 1053.00 L495.70 1057.50 L500.20 1057.50 L506.20 1060.50 L513.80 1062.00 L521.30 1063.50 L530.30 1066.20 L539.40 1069.30 L546.90 1070.00 L552.90 1072.70 L558.90 1073.80 L563.50 1072.60 L568.00 1074.10 L575.50 1078.60 L584.50 1082.10 L590.60 1081.60 L596.60 1085.50 L602.60 1082.50 L607.10 1082.40 L613.10 1086.60 L619.90 1089.60" stroke="#e8151d" stroke-width="2.6" fill="none" stroke-linejoin="round" stroke-linecap="butt" />
<path d="M115.30 1094.70 C115.60 1091.28 116.42 1081.40 117.10 1074.20 C117.78 1067.00 118.63 1059.07 119.40 1051.50 C120.17 1043.93 120.82 1036.37 121.70 1028.80 C122.58 1021.23 123.70 1013.43 124.70 1006.10 C125.70 998.77 126.57 991.62 127.70 984.80 C128.83 977.98 130.10 971.00 131.50 965.20 C132.90 959.40 134.45 954.80 136.10 950.00 C137.75 945.20 139.52 940.70 141.40 936.40 C143.28 932.10 145.13 927.87 147.40 924.20 C149.67 920.53 152.90 916.55 155.00 914.40 C157.10 912.25 158.50 912.12 160.00 911.30 C161.50 910.48 162.28 910.07 164.00 909.50 C165.72 908.93 168.33 908.10 170.30 907.90 C172.27 907.70 173.55 907.93 175.80 908.30 C178.05 908.67 181.15 909.17 183.80 910.10 C186.45 911.03 189.07 912.62 191.70 913.90 C194.33 915.18 196.97 916.42 199.60 917.80 C202.23 919.18 204.85 920.62 207.50 922.20 C210.15 923.78 212.85 925.58 215.50 927.30 C218.15 929.02 220.77 930.85 223.40 932.50 C226.03 934.15 228.67 935.55 231.30 937.20 C233.93 938.85 236.55 940.68 239.20 942.40 C241.85 944.12 245.08 946.03 247.20 947.50 C249.32 948.97 249.77 949.80 251.90 951.20 C254.03 952.60 257.62 954.57 260.00 955.90 C262.38 957.23 264.53 958.28 266.20 959.20 C267.87 960.12 266.98 959.85 270.00 961.40 C273.02 962.95 281.92 967.32 284.30 968.50 L301.40 978.50 L307.10 978.20 L319.90 982.80 L332.80 988.50 L345.60 992.80 L358.40 999.60 L364.10 999.60 L372.70 1004.50 L387.00 1007.30 L394.10 1009.90 L398.40 1010.20 L415.50 1017.70 L421.20 1018.20 L426.90 1020.60 L434.00 1022.70 L440.00 1024.80 L444.50 1026.30 L450.50 1026.30 L456.60 1028.30 L462.60 1029.10 L467.10 1031.60 L473.10 1031.90 L485.20 1035.80 L495.70 1036.10 L506.20 1038.80 L513.80 1041.90 L524.30 1044.90 L534.90 1048.50 L540.90 1048.20 L546.90 1051.20 L555.90 1051.50 L563.50 1056.90 L568.00 1056.00 L575.50 1058.00 L586.00 1057.20 L592.10 1062.50 L598.10 1064.70 L608.60 1065.00 L614.60 1066.50 L619.90 1067.50" stroke="#3550a3" stroke-width="2.6" fill="none" stroke-linejoin="round" stroke-linecap="butt" />
<path d="M734.40 1171.70 C734.50 1167.53 734.65 1157.82 735.00 1146.70 C735.35 1135.58 735.92 1118.90 736.50 1105.00 C737.08 1091.10 737.82 1075.47 738.50 1063.30 C739.18 1051.13 739.73 1042.42 740.60 1032.00 C741.48 1021.58 742.90 1007.47 743.75 1000.80 C744.60 994.13 744.66 997.03 745.70 992.00 C746.74 986.97 748.33 976.78 750.00 970.60 C751.67 964.42 753.68 959.65 755.70 954.90 C757.72 950.15 759.25 946.50 762.10 942.10 C764.95 937.70 769.60 931.48 772.80 928.50 C776.00 925.52 778.33 925.55 781.30 924.20 C784.27 922.85 786.55 920.93 790.60 920.40 C794.65 919.87 801.43 920.37 805.60 921.00 C809.77 921.63 811.57 922.23 815.60 924.20 C819.63 926.17 825.05 929.93 829.80 932.80 C834.55 935.67 840.28 939.15 844.10 941.40 C847.92 943.65 850.08 944.28 852.70 946.30 C855.32 948.32 856.72 951.23 859.80 953.50 C862.88 955.77 867.87 957.77 871.20 959.90 C874.53 962.03 877.18 964.57 879.80 966.30 C882.42 968.03 885.20 969.33 886.90 970.30 C888.60 971.27 889.48 971.80 890.00 972.10 L898.60 976.00 L907.10 978.30 L915.70 982.50 L921.40 982.80 L931.40 985.70 L938.50 989.20 L949.90 992.50 L961.30 995.90 L975.60 1001.60 L982.70 1005.60 L988.40 1005.90 L994.10 1008.80 L1005.50 1011.30 L1012.70 1013.90 L1018.40 1014.50 L1026.90 1018.20 L1036.90 1020.60 L1041.20 1022.80 L1046.90 1022.80 L1055.50 1025.90 L1062.60 1029.90 L1066.00 1030.30 L1076.60 1032.90 L1084.80 1037.10 L1091.60 1035.90 L1099.10 1037.40 L1108.20 1041.60 L1114.20 1041.60 L1123.20 1044.30 L1129.30 1046.90 L1135.30 1050.70 L1141.30 1051.10 L1151.80 1050.30 L1157.90 1053.70 L1163.90 1058.60 L1174.40 1058.50 L1180.40 1060.90 L1186.50 1060.90 L1192.50 1063.90 L1198.50 1065.00 L1204.50 1067.20 L1210.60 1066.00 L1215.10 1066.50 L1221.10 1071.00 L1227.10 1071.00 L1233.10 1077.00 L1237.70 1075.00 L1243.70 1076.20" stroke="#e8151d" stroke-width="2.6" fill="none" stroke-linejoin="round" stroke-linecap="butt" />
<path d="M733.90 1175.80 C734.02 1167.47 734.28 1141.07 734.60 1125.80 C734.92 1110.53 735.32 1098.08 735.80 1084.20 C736.28 1070.32 736.87 1054.65 737.50 1042.50 C738.13 1030.35 738.83 1019.25 739.60 1011.30 C740.37 1003.35 741.20 1000.87 742.10 994.80 C743.00 988.73 744.05 980.37 745.00 974.90 C745.95 969.43 746.85 965.80 747.80 962.00 C748.75 958.20 749.38 955.18 750.70 952.10 C752.02 949.02 753.92 946.72 755.70 943.50 C757.48 940.28 759.50 935.88 761.40 932.80 C763.30 929.72 765.20 927.07 767.10 925.00 C769.00 922.93 770.67 921.72 772.80 920.40 C774.93 919.08 777.52 918.00 779.90 917.10 C782.28 916.20 784.48 915.30 787.10 915.00 C789.72 914.70 792.75 914.72 795.60 915.30 C798.45 915.88 801.35 917.02 804.20 918.50 C807.05 919.98 809.62 921.93 812.70 924.20 C815.78 926.47 818.65 928.88 822.70 932.10 C826.75 935.32 832.00 939.47 837.00 943.50 C842.00 947.53 847.72 952.73 852.70 956.30 C857.68 959.87 862.15 962.17 866.90 964.90 C871.65 967.63 877.35 971.13 881.20 972.70 C885.05 974.27 888.53 974.03 890.00 974.30 L898.60 978.30 L904.30 979.30 L910.00 983.10 L920.00 984.20 L927.10 987.80 L932.80 992.10 L941.30 994.20 L955.60 998.50 L965.60 1003.10 L972.70 1004.20 L982.70 1008.50 L992.70 1010.20 L1005.50 1013.90 L1011.20 1017.50 L1016.90 1017.80 L1022.60 1022.80 L1034.10 1026.80 L1039.80 1026.30 L1049.70 1029.90 L1060.00 1031.80 L1067.50 1032.30 L1072.00 1034.10 L1079.60 1038.60 L1087.10 1041.60 L1096.10 1045.80 L1102.20 1047.30 L1108.20 1050.70 L1114.20 1049.90 L1120.20 1053.70 L1127.80 1058.90 L1135.30 1058.20 L1142.80 1059.70 L1150.30 1062.70 L1157.90 1066.00 L1163.90 1069.90 L1168.40 1069.90 L1175.90 1074.00 L1182.00 1074.70 L1188.00 1078.10 L1192.50 1082.00 L1198.50 1080.00 L1204.50 1083.00 L1209.80 1087.10 L1215.10 1084.50 L1221.10 1092.10 L1225.60 1092.10 L1231.60 1089.00 L1237.70 1092.10 L1243.70 1089.00" stroke="#3550a3" stroke-width="2.6" fill="none" stroke-linejoin="round" stroke-linecap="butt" />
<path d="M770.20 631.00 C770.45 628.32 771.08 619.72 771.70 614.90 C772.32 610.08 773.00 606.73 773.90 602.10 C774.80 597.47 775.68 592.45 777.10 587.10 C778.52 581.75 780.62 574.98 782.40 570.00 C784.18 565.02 785.83 561.12 787.80 557.20 C789.77 553.28 791.72 550.07 794.20 546.50 C796.68 542.93 799.85 538.67 802.70 535.80 C805.55 532.93 808.43 530.92 811.30 529.30 C814.17 527.68 816.33 526.88 819.90 526.10 C823.47 525.32 828.07 524.70 832.70 524.60 C837.33 524.50 842.72 524.78 847.70 525.50 C852.68 526.22 857.25 527.47 862.60 528.90 C867.95 530.33 873.37 531.70 879.80 534.10 C886.23 536.50 894.07 540.23 901.20 543.30 C908.33 546.37 915.47 549.48 922.60 552.50 C929.73 555.52 940.43 559.92 944.00 561.40 L965.30 572.10 L985.00 583.30 L995.70 587.10 L1006.40 595.20 L1023.50 601.00 L1027.80 605.30 L1036.30 608.50 L1049.20 614.90 L1053.50 619.90 L1062.00 621.30 L1066.30 626.70 L1070.60 626.10 L1079.10 638.00 L1081.30 635.30 L1092.00 644.90 L1094.10 641.70 L1107.00 647.40 L1109.10 650.20 L1113.40 659.90 L1117.60 657.70 L1121.90 665.20 L1124.10 659.90 L1126.20 668.40 L1132.60 662.40 L1136.90 675.90 L1141.20 670.60 L1144.80 681.00 L1147.60 672.30 L1149.50 683.80 L1150.50 681.40 L1157.10 681.00 L1160.00 697.10 L1161.90 700.00 L1163.80 695.20 L1165.70 700.00 L1167.60 699.50 L1170.00 688.10 L1175.70 710.40 L1178.00 692.40 L1179.90 705.20 L1182.30 689.50 L1184.20 712.30 L1186.60 701.90 L1188.00 709.50 L1190.00 707.90 L1192.40 703.60 L1195.50 710.00 L1196.70 735.20 L1198.80 735.50 L1200.60 730.30 L1203.00 717.60 L1204.80 742.40 L1206.10 735.20 L1207.30 735.20 L1208.20 741.80 L1210.60 742.70 L1215.20 725.50" stroke="#e8151d" stroke-width="2.6" fill="none" stroke-linejoin="round" stroke-linecap="butt" />
<path d="M1219.10 730.30 L1221.50 770.30 L1223.90 741.80 L1226.40 735.20 L1228.20 735.50 L1231.80 753.00 L1233.60 743.00 L1236.40 741.80 L1237.90 720.90 L1242.10 770.30 L1244.50 735.80" stroke="#e8151d" stroke-width="2.6" fill="none" stroke-linejoin="round" stroke-linecap="butt" />
<path d="M770.20 623.50 C770.45 620.65 770.92 611.75 771.70 606.40 C772.48 601.05 773.65 596.75 774.90 591.40 C776.15 586.05 777.42 580.00 779.20 574.30 C780.98 568.60 783.10 562.20 785.60 557.20 C788.10 552.20 791.35 548.30 794.20 544.30 C797.05 540.30 799.85 536.23 802.70 533.20 C805.55 530.17 808.43 527.73 811.30 526.10 C814.17 524.47 816.33 524.03 819.90 523.40 C823.47 522.77 828.78 522.45 832.70 522.30 C836.62 522.15 839.83 522.12 843.40 522.50 C846.97 522.88 850.18 523.47 854.10 524.60 C858.02 525.73 862.62 527.43 866.90 529.30 C871.18 531.17 874.08 533.30 879.80 535.80 C885.52 538.30 894.07 541.27 901.20 544.30 C908.33 547.33 915.47 550.62 922.60 554.00 C929.73 557.38 940.43 562.83 944.00 564.60 L965.30 578.60 L976.00 586.00 L985.00 588.80 L995.70 596.70 L1006.40 602.10 L1015.00 605.30 L1019.20 611.70 L1029.90 618.10 L1036.30 624.60 L1042.80 627.80 L1049.20 631.00 L1059.90 638.90 L1065.20 647.00 L1068.40 642.70 L1074.90 653.90 L1081.30 648.70 L1085.60 656.60 L1087.70 653.40 L1093.00 667.30 L1095.20 662.00 L1101.60 671.60 L1107.00 672.70 L1111.20 683.40 L1113.40 679.10 L1121.90 698.40 L1124.10 692.00 L1126.20 698.40 L1130.50 690.90 L1136.90 703.70 L1140.00 702.80 L1141.00 717.60 L1142.90 703.80 L1145.20 725.20 L1149.50 710.00 L1153.30 729.40 L1157.60 705.20 L1160.00 715.20 L1161.90 718.00 L1165.70 735.10 L1168.00 721.40 L1173.80 742.30 L1178.00 714.70 L1180.40 735.10 L1182.30 725.60 L1184.70 742.30 L1186.10 742.80 L1188.00 769.90 L1190.40 752.70 L1192.30 769.90 L1194.70 742.30 L1197.00 769.90 L1199.00 769.90 L1200.90 753.20" stroke="#3550a3" stroke-width="2.6" fill="none" stroke-linejoin="round" stroke-linecap="butt" />
<path d="M1206.60 742.30 L1208.90 769.90 L1211.10 753.20" stroke="#3550a3" stroke-width="2.6" fill="none" stroke-linejoin="round" stroke-linecap="butt" />
<circle cx="1216.3" cy="770" r="1.4" fill="#3550a3"/>
<circle cx="1232.7" cy="770" r="1.4" fill="#3550a3"/>
<text class="ti" x="270.55" y="47" style="letter-spacing:1.381px" >North Atlantic</text>
<text class="ti" x="897.50" y="47" style="letter-spacing:1.112px" >South Atlantic</text>
<text class="ut" x="311.60" y="85.7" style="letter-spacing:0.650px" >Upper</text>
<text class="ut" x="388.40" y="85.7" style="letter-spacing:0.000px" >−</text>
<text class="ut" x="411.20" y="85.7" style="letter-spacing:2.667px" >Tail</text>
<text class="ut" x="462.80" y="85.7" style="letter-spacing:1.772px" >cumulative</text>
<text class="xl" x="255.40" y="470.1" style="letter-spacing:1.447px" >Lifetimes (weeks)</text>
<text class="xl" x="306.75" y="890.7">R</text>
<text class="xl sub" x="327.20" y="894.5" style="letter-spacing:1.075px">max</text>
<text class="xl" x="367.50" y="890.7" style="letter-spacing:1.083px">(km)</text>
<text class="xl" x="303.50" y="1313.6">V</text>
<text class="xl sub" x="318.70" y="1317.4" style="letter-spacing:2.175px">max</text>
<text class="xl" x="358.60" y="1313.6" style="letter-spacing:2.275px">(m/s)</text>
<text class="xl" x="879.60" y="470.1" style="letter-spacing:1.447px" >Lifetimes (weeks)</text>
<text class="xl" x="930.95" y="890.7">R</text>
<text class="xl sub" x="951.40" y="894.5" style="letter-spacing:1.075px">max</text>
<text class="xl" x="991.70" y="890.7" style="letter-spacing:1.083px">(km)</text>
<text class="xl" x="927.70" y="1313.6">V</text>
<text class="xl sub" x="942.90" y="1317.4" style="letter-spacing:2.175px">max</text>
<text class="xl" x="982.80" y="1313.6" style="letter-spacing:2.275px">(m/s)</text>
<text class="yl" transform="translate(42.3,278.2) rotate(-90)" x="0" y="0">N<tspan class="ysub" x="26.4" dy="5">eddies</tspan></text>
<text class="yl" transform="translate(42.3,698.2) rotate(-90)" x="0" y="0">N<tspan class="ysub" x="26.4" dy="5">eddies</tspan></text>
<text class="yl" transform="translate(42.3,1120.5) rotate(-90)" x="0" y="0">N<tspan class="ysub" x="26.4" dy="5">eddies</tspan></text>
<rect x="1018.3" y="78.6" width="205" height="66.3" fill="#fff" stroke="#1c1c1c" stroke-width="1.6"/>
<line x1="1025" y1="97" x2="1070.7" y2="97" stroke="#e8151d" stroke-width="2.2"/>
<line x1="1025" y1="127.4" x2="1070.7" y2="127.4" stroke="#3550a3" stroke-width="2.2"/>
<text class="lg" x="1077.50" y="102.2" style="letter-spacing:0.877px" >Anticyclones</text>
<text class="lg" x="1075.00" y="132.8" style="letter-spacing:0.664px" >Cyclones</text>
<text class="pn" x="-0.5" y="24">A</text>
<text class="pn" x="652.5" y="24">B</text>
<text class="pn" x="0.5" y="454.3">C</text>
<text class="pn" x="652.5" y="454.3">D</text>
<text class="pn" x="-0.5" y="881">E</text>
<text class="pn" x="652.5" y="881">F</text>
</svg></body></html>
